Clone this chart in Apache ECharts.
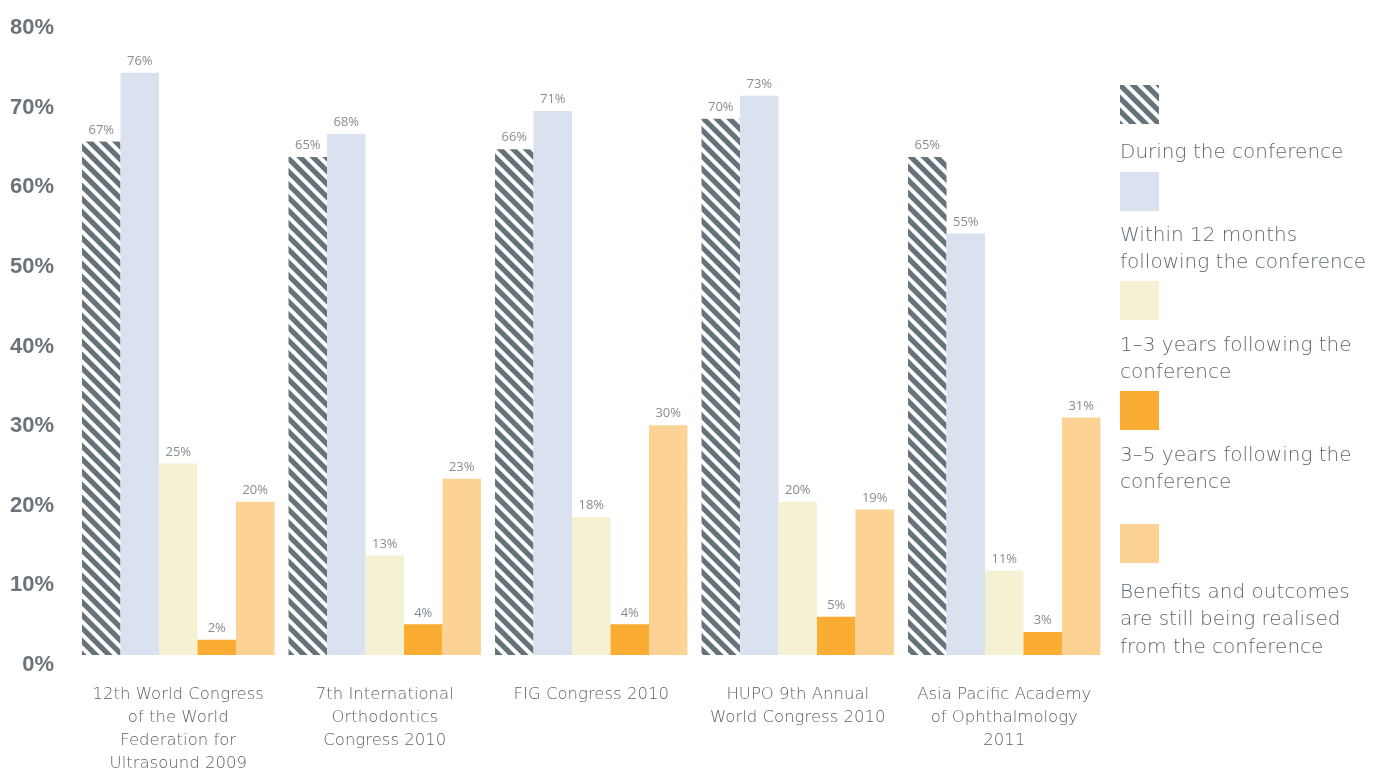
<!DOCTYPE html>
<html>
<head>
<meta charset="utf-8">
<script src="https://cdn.jsdelivr.net/npm/echarts@6/dist/echarts.min.js"></script>
<style>
  html, body { margin: 0; padding: 0; background: #ffffff; overflow: hidden; }
  #chart { width: 1375px; height: 769px; }
</style>
</head>
<body>
<div id="chart"></div>
<script>
// Conferences (x axis categories)
const categories = [
  '12th World Congress\nof the World\nFederation for\nUltrasound 2009',
  '7th International\nOrthodontics\nCongress 2010',
  'FIG Congress 2010',
  'HUPO 9th Annual\nWorld Congress 2010',
  'Asia Pacific Academy\nof Ophthalmology\n2011'
];

// Share of respondents (%) per timing of benefits
const seriesNames = [
  'During the conference',
  'Within 12 months following the conference',
  '1–3 years following the conference',
  '3–5 years following the conference',
  'Benefits and outcomes are still being realised from the conference'
];
const legendLabels = [
  'During the conference',
  'Within 12 months\nfollowing the conference',
  '1–3 years following the\nconference',
  '3–5 years following the\nconference',
  'Benefits and outcomes\nare still being realised\nfrom the conference'
];
const duringConference = [67, 65, 66, 70, 65];
const within12Months   = [76, 68, 71, 73, 55];
const oneToThreeYears  = [25, 13, 18, 20, 11];
const threeToFiveYears = [2, 4, 4, 5, 3];
const stillRealising   = [20, 23, 30, 19, 31];
const seriesValues = [duringConference, within12Months, oneToThreeYears, threeToFiveYears, stillRealising];

// Y axis tick labels
const yTicks = [0, 10, 20, 30, 40, 50, 60, 70, 80];

// Diagonal hatch tile for the first series
function hatchPattern() {
  const s = 13;
  const c = document.createElement('canvas');
  c.width = s; c.height = s;
  const ctx = c.getContext('2d');
  ctx.fillStyle = '#ffffff';
  ctx.fillRect(0, 0, s, s);
  ctx.strokeStyle = '#67737a';
  ctx.lineWidth = 5.2;
  ctx.lineCap = 'square';
  const segs = [[-2, -2, s + 2, s + 2], [-2, s - 2, 2, s + 2], [s - 2, -2, s + 2, 2]];
  segs.forEach(([x1, y1, x2, y2]) => {
    ctx.beginPath(); ctx.moveTo(x1, y1); ctx.lineTo(x2, y2); ctx.stroke();
  });
  return { image: c, repeat: 'repeat' };
}
const hatch = hatchPattern();
const fills = [hatch, '#dbe2ef', '#f5f2d3', '#fbad33', '#fdd395'];

const textFont = '"DejaVu Sans"';
const valueFont = '"Open Sans"';
const chart = echarts.init(document.getElementById('chart'), null, { renderer: 'canvas', width: 1375, height: 769 });

// Legend: swatch above its text, stacked down the right side
const legendIconTops = [85, 172, 281, 391, 524];
const legendTextTops = [139, 222, 332, 442, 579];
const legendGraphics = [];
seriesNames.forEach((name, i) => {
  legendGraphics.push({
    type: 'rect', left: 1120, top: legendIconTops[i],
    shape: { width: 39, height: 39 },
    style: { fill: fills[i] }
  });
  legendGraphics.push({
    type: 'text', left: 1120, top: legendTextTops[i],
    style: {
      text: legendLabels[i], fill: '#5c6870',
      font: '200 20px ' + textFont, lineHeight: 27.5
    }
  });
});

const option = {
  backgroundColor: '#ffffff',
  animation: false,
  grid: [
    { left: 75, width: 1032.5, top: 42, height: 613, outerBoundsMode: 'none', containLabel: false },
    { left: 75, width: 1032.5, top: 28, height: 637, outerBoundsMode: 'none', containLabel: false }
  ],
  xAxis: [
    {
      type: 'category', gridIndex: 0, data: categories,
      axisLine: { show: false }, axisTick: { show: false },
      axisLabel: {
        interval: 0, margin: 28, color: '#58636a',
        fontFamily: textFont, fontWeight: 200, fontSize: 16.5, lineHeight: 23
      }
    },
    { type: 'category', gridIndex: 1, data: categories, show: false }
  ],
  yAxis: [
    { type: 'value', gridIndex: 0, min: 0, max: 80, interval: 10, show: false },
    {
      type: 'value', gridIndex: 1, min: yTicks[0], max: yTicks[yTicks.length - 1], interval: 10,
      axisLine: { show: false }, axisTick: { show: false }, splitLine: { show: false },
      axisLabel: {
        align: 'right', margin: 21, color: '#6a747a',
        fontFamily: 'Liberation Sans', fontWeight: 'bold', fontSize: 22,
        formatter: v => v + '%'
      }
    }
  ],
  series: seriesNames.map((name, i) => ({
    name: name,
    type: 'bar',
    xAxisIndex: 0, yAxisIndex: 0,
    data: seriesValues[i],
    barGap: '0%',
    barCategoryGap: '6.8%',
    itemStyle: { color: fills[i] },
    label: {
      show: true, position: 'top', distance: 5,
      formatter: '{c}%', color: '#858d93',
      fontFamily: valueFont, fontWeight: 400, fontSize: 13
    }
  })),
  graphic: legendGraphics
};
chart.setOption(option);
</script>
</body>
</html>
